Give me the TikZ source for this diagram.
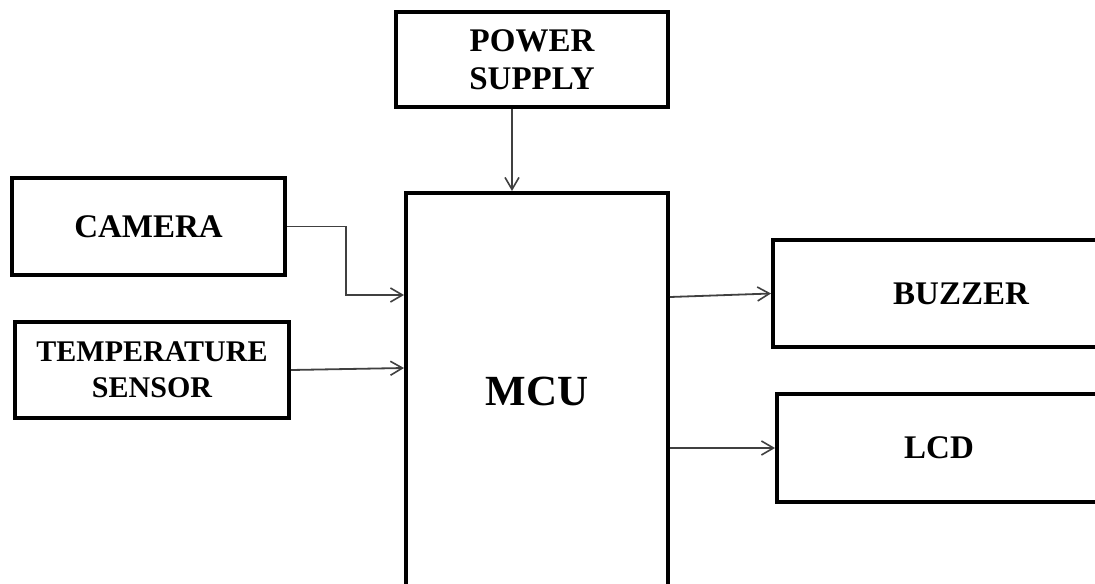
\documentclass[tikz,border=0pt]{standalone}
\usepackage{fontspec}
\setmainfont{Liberation Serif}
\usetikzlibrary{arrows.meta,calc}
\tikzset{
  blk/.style={draw=black, line width=2pt, rectangle, inner sep=0pt, align=center,
    font=\fontsize{16.5}{19}\selectfont\bfseries},
  arr/.style={draw=black!75, line width=0.9pt, -{Straight Barb[length=6pt,width=7pt,line width=0.8pt]}}
}
\begin{document}
\begin{tikzpicture}[x=0.5pt,y=-0.5pt]
\useasboundingbox (0,0) rectangle (1095,583);
\clip (0,0) rectangle (1095,583);
\fill[white] (0,0) rectangle (1095,583);
\node[blk, minimum width=136pt, minimum height=47.5pt] (ps) at (532,59.5) {POWER\\SUPPLY};
\node[blk, minimum width=131pt, minimum height=198pt, font=\fontsize{21.5}{26}\selectfont\bfseries] (mcu) at (537,391) {MCU};
\node[blk, minimum width=136.5pt, minimum height=48.5pt] (cam) at (148.5,226.5) {CAMERA};
\node[blk, minimum width=137pt, minimum height=48pt, font=\fontsize{15}{18}\selectfont\bfseries] (temp) at (152,370) {TEMPERATURE\\SENSOR};
\node[blk, minimum width=188pt, minimum height=53.5pt] (buz) at (961,293.5) {BUZZER};
\node[blk, minimum width=162pt, minimum height=54pt] (lcd) at (939,448) {LCD};
\draw[arr] ([xshift=-10pt]ps.south) -- ([xshift=-10pt]ps.south |- mcu.north);
\draw[arr] (cam.east) -- ++(59,0) |- ([yshift=48pt]mcu.west);
\draw[arr] (temp.east) -- ([yshift=11.5pt]mcu.west);
\draw[arr] ([yshift=47pt]mcu.east) -- (buz.west);
\draw[arr] ([yshift=-28.5pt]mcu.east) -- (lcd.west);
\end{tikzpicture}
\end{document}
